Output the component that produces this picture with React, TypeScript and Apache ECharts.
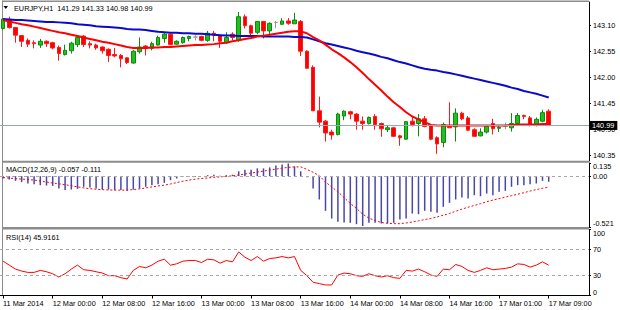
import React, { useEffect, useRef } from 'react';
import * as echarts from 'echarts';

// ---- time axis ----
const sessions: [string, number, number][] = [
  ['11 Mar', 16, 23],
  ['12 Mar', 0, 23],
  ['13 Mar', 0, 23],
  ['14 Mar', 0, 23],
  ['17 Mar', 1, 15],
];
const firstLabel = '11 Mar 2014';
const lastBarIndex = 88;

// ---- price candles (EURJPY H1) ----
const opens = [143.04,143.22,143.06,142.89,142.79,142.74,142.69,142.77,142.74,142.64,
  142.49,142.57,142.70,142.88,142.72,142.69,142.65,142.60,142.49,142.47,
  142.42,142.31,142.55,142.67,142.62,142.69,142.83,142.92,142.71,142.74,
  142.83,142.86,142.87,142.79,142.94,142.89,142.74,142.92,142.79,143.29,
  143.10,142.96,143.19,142.99,143.17,143.13,143.20,143.14,143.19,142.56,
  142.22,141.30,141.08,140.85,140.80,141.19,141.28,141.23,141.08,141.03,
  141.18,141.03,140.90,140.94,140.77,140.70,141.08,141.03,141.13,140.99,
  140.73,140.63,140.97,140.96,141.25,141.15,140.90,140.77,140.85,141.03,
  140.93,140.97,140.94,141.03,141.20,141.15,140.99,141.08,141.29];
const closes = [143.24,143.06,142.90,142.77,142.71,142.72,142.77,142.72,142.63,142.51,
  142.58,142.73,142.85,142.70,142.69,142.63,142.57,142.47,142.46,142.40,
  142.32,142.56,142.65,142.62,142.72,142.85,142.92,142.70,142.77,142.85,
  142.87,142.86,142.79,142.94,142.90,142.77,142.85,142.85,143.29,143.10,
  142.94,143.19,142.99,143.15,143.17,143.20,143.15,143.22,142.56,142.20,
  141.30,141.06,140.83,140.79,141.23,141.29,141.23,141.08,141.03,141.16,
  141.01,140.92,140.94,140.76,140.73,141.07,141.01,141.13,140.97,140.70,
  140.60,141.01,140.94,141.25,141.13,140.89,140.76,140.85,140.97,140.92,
  140.95,140.97,141.03,141.20,141.18,140.99,141.12,141.26,140.99];
const lows = [143.02,143.04,142.74,142.65,142.65,142.62,142.63,142.65,142.60,142.36,
  142.47,142.51,142.65,142.65,142.62,142.59,142.51,142.33,142.43,142.22,
  142.29,142.30,142.51,142.47,142.58,142.68,142.74,142.69,142.70,142.72,
  142.77,142.79,142.77,142.76,142.77,142.63,142.72,142.79,142.76,143.04,
  142.89,142.92,142.83,142.92,143.05,143.12,143.12,143.14,142.46,142.19,
  141.30,140.95,140.65,140.69,140.78,141.10,141.12,140.90,140.90,141.01,
  140.90,140.75,140.85,140.75,140.56,140.69,140.97,140.76,140.95,140.68,
  140.39,140.53,140.94,140.65,141.10,140.87,140.75,140.76,140.82,140.80,
  140.85,140.91,140.86,141.01,141.12,140.97,140.97,141.06,140.98];
const highs = [143.26,143.29,143.07,142.90,142.83,142.79,142.82,142.79,142.76,142.68,
  142.70,142.76,142.90,142.90,142.77,142.72,142.66,142.62,142.63,142.50,
  142.43,142.58,142.85,142.69,142.76,142.89,142.96,142.94,142.79,142.87,
  142.89,142.90,142.89,142.99,142.99,142.92,142.96,142.96,143.39,143.34,
  143.12,143.20,143.20,143.17,143.20,143.26,143.26,143.37,143.22,142.58,
  142.26,141.60,141.11,140.90,141.26,141.31,141.30,141.25,141.18,141.18,
  141.23,141.05,140.99,140.96,140.79,141.08,141.19,141.23,141.19,141.01,
  140.76,141.05,141.48,141.35,141.28,141.19,140.93,140.93,141.00,141.13,
  140.99,141.05,141.25,141.25,141.22,141.19,141.16,141.32,141.33];

// ---- moving averages ----
const redMA = [143.22,143.19,143.16,143.13,143.11,143.08,143.05,143.02,142.99,142.96,
  142.94,142.91,142.88,142.85,142.82,142.79,142.76,142.74,142.71,142.68,
  142.65,142.63,142.63,142.63,142.64,142.64,142.65,142.65,142.66,142.67,
  142.68,142.69,142.69,142.70,142.71,142.73,142.74,142.77,142.79,142.82,
  142.84,142.87,142.89,142.91,142.93,142.95,142.97,142.98,142.98,142.94,
  142.86,142.79,142.70,142.60,142.52,142.43,142.33,142.22,142.10,141.97,
  141.85,141.73,141.60,141.48,141.38,141.27,141.18,141.12,141.06,141.00,
  140.99,140.99,140.99,140.99,140.99,140.99,140.99,140.99,140.99,140.99,
  140.99,140.99,141.00,141.01,141.01,141.01,141.01,141.02,141.02];
const blueMA = [143.24,143.23,143.22,143.22,143.21,143.20,143.19,143.18,143.18,143.17,
  143.16,143.15,143.13,143.12,143.11,143.09,143.08,143.07,143.06,143.05,
  143.03,143.02,143.02,143.01,142.99,142.97,142.96,142.95,142.95,142.94,
  142.94,142.93,142.93,142.92,142.91,142.90,142.89,142.89,142.88,142.88,
  142.88,142.88,142.87,142.87,142.87,142.87,142.87,142.86,142.86,142.85,
  142.81,142.77,142.73,142.70,142.67,142.64,142.61,142.57,142.54,142.51,
  142.48,142.44,142.41,142.37,142.33,142.30,142.26,142.22,142.19,142.17,
  142.15,142.12,142.10,142.07,142.04,142.01,141.98,141.95,141.92,141.89,
  141.86,141.83,141.79,141.76,141.72,141.69,141.66,141.62,141.58];

// ---- MACD(12,26,9) ----
const macdHist = [-0.024,-0.034,-0.048,-0.061,-0.075,-0.082,-0.092,-0.096,-0.1,-0.126,
  -0.143,-0.137,-0.13,-0.109,-0.116,-0.126,-0.137,-0.137,-0.143,-0.143,
  -0.15,-0.137,-0.126,-0.109,-0.092,-0.082,-0.068,-0.041,-0.024,-0.007,
  -0.007,-0.007,0.0,0.01,0.015,0.005,0.01,0.015,0.05,0.065,
  0.065,0.08,0.08,0.09,0.11,0.12,0.13,0.1,0.05,-0.01,
  -0.126,-0.239,-0.355,-0.434,-0.468,-0.475,-0.478,-0.492,-0.51,-0.478,
  -0.478,-0.485,-0.485,-0.478,-0.444,-0.434,-0.383,-0.39,-0.355,-0.365,
  -0.376,-0.314,-0.273,-0.239,-0.219,-0.229,-0.195,-0.205,-0.178,-0.195,
  -0.16,-0.15,-0.109,-0.092,-0.092,-0.082,-0.075,-0.048,-0.057];
const macdSignal = [-0.014,-0.02,-0.025,-0.03,-0.035,-0.04,-0.05,-0.06,-0.07,-0.078,
  -0.088,-0.098,-0.11,-0.12,-0.128,-0.134,-0.138,-0.141,-0.143,-0.144,
  -0.143,-0.138,-0.13,-0.121,-0.11,-0.1,-0.092,-0.08,-0.066,-0.052,
  -0.04,-0.03,-0.024,-0.018,-0.012,-0.007,-0.002,0.003,0.012,0.022,
  0.032,0.042,0.052,0.062,0.072,0.082,0.09,0.095,0.095,0.07,
  0.04,0.005,-0.06,-0.11,-0.16,-0.22,-0.28,-0.33,-0.39,-0.43,
  -0.455,-0.475,-0.483,-0.487,-0.487,-0.48,-0.47,-0.458,-0.445,-0.434,
  -0.418,-0.4,-0.382,-0.36,-0.338,-0.318,-0.3,-0.282,-0.262,-0.245,
  -0.23,-0.215,-0.2,-0.185,-0.17,-0.152,-0.138,-0.124,-0.111];

// ---- RSI(14) ----
const rsi = [52,46,40,37,35,35,38,36,33,28,
  33,40,46,39,38,36,34,30,30,27,
  25,38,44,42,46,52,55,46,48,52,
  53,53,50,55,54,49,53,51,66,58,
  53,59,52,56,57,59,57,59,38,30,
  20,18,16,16,31,34,33,30,29,33,
  30,28,30,27,26,38,37,40,36,31,
  29,40,39,47,44,38,35,38,42,39,
  40,41,43,48,47,43,46,51,45.9161];

// ---- axis ticks ----
const priceTicks = [140.35, 140.90, 141.45, 142.00, 142.55, 143.10];
const priceMin = 140.238;
const priceMax = 143.601;
const bidPrice = 140.99;
const macdTicks = [-0.521, 0, 0.135];
const rsiTicks = [0, 30, 70, 100];
const rsiLevels = [30, 70];

const titleText = 'EURJPY,H1  141.29 141.33 140.98 140.99';
const macdText = 'MACD(12,26,9) -0.057 -0.111';
const rsiText = 'RSI(14) 45.9161';

const FONT = 'Liberation Sans, Arial, sans-serif';
const FS = 7.3;

function buildCategories(): string[] {
  const out: string[] = [];
  const pad = (n: number) => (n < 10 ? '0' : '') + n;
  sessions.forEach(([d, a, b]) => {
    for (let h = a; h <= b; h++) out.push(`${d} ${pad(h)}:00`);
  });
  return out;
}

export default function App() {
  const ref = useRef<HTMLDivElement>(null);
  useEffect(() => {
    if (!ref.current) return;
    const chart = echarts.init(ref.current, undefined, { renderer: 'svg' });
    const categories = buildCategories();
    const labelInterval = (index: number) => index % 8 === 0 && index <= lastBarIndex;
    const candleData = opens.map((o, i) => {
      const v = [o, closes[i], lows[i], highs[i]];
      if (o === closes[i]) {
        return {
          value: v,
          itemStyle: { color: '#9a9a9a', color0: '#9a9a9a', borderColor: '#9a9a9a', borderColor0: '#9a9a9a' },
        };
      }
      return v;
    });
    const gray = '#8c8c8c';
    const yCommon = (ticks: number[], fmt: (v: number) => string, edgeAlign: boolean) => ({
      type: 'value',
      position: 'right',
      axisLine: { show: true, lineStyle: { color: '#000', width: 1 } },
      axisTick: { show: true, length: 2, customValues: ticks, lineStyle: { color: '#000' } },
      axisLabel: {
        customValues: ticks,
        formatter: fmt,
        fontSize: FS,
        fontFamily: FONT,
        color: '#000',
        margin: 4,
        ...(edgeAlign ? { verticalAlignMaxLabel: 'top', verticalAlignMinLabel: 'bottom' } : {}),
      },
      splitLine: { show: false },
    });
    const option: any = {
      animation: false,
      textStyle: { fontFamily: FONT },
      grid: [
        { left: 0, top: 2, width: 589, height: 159 },
        { left: 0, top: 163, width: 589, height: 64 },
        { left: 0, top: 229.5, width: 589, height: 66 },
      ],
      xAxis: [0, 1, 2].map((g) => ({
        type: 'category',
        gridIndex: g,
        data: categories,
        boundaryGap: true,
        show: g === 2,
        axisLine: { onZero: false, lineStyle: { color: '#000', width: 1 } },
        axisTick: { show: true, alignWithLabel: true, length: 3, interval: labelInterval, lineStyle: { color: '#000' } },
        axisLabel: {
          interval: labelInterval,
          formatter: (v: string, i: number) => (i === 0 ? firstLabel : v),
          align: 'left',
          fontSize: FS,
          fontFamily: FONT,
          color: '#000',
          margin: 4,
        },
        splitLine: { show: false },
      })),
      yAxis: [
        { ...yCommon(priceTicks, (v: number) => v.toFixed(2), false), gridIndex: 0, min: priceMin, max: priceMax },
        { ...yCommon(macdTicks, (v: number) => (v === 0 ? '0.00' : v.toFixed(3)), true), gridIndex: 1, min: -0.521, max: 0.135 },
        { ...yCommon(rsiTicks, (v: number) => String(v), true), gridIndex: 2, min: 0, max: 100 },
      ],
      series: [
        {
          type: 'candlestick',
          xAxisIndex: 0,
          yAxisIndex: 0,
          barWidth: 4,
          silent: true,
          data: candleData,
          itemStyle: { color: '#1fc01f', color0: '#ff0000', borderColor: '#0b8a0b', borderColor0: '#ff1a1a', borderWidth: 1 },
          markLine: {
            silent: true,
            symbol: ['none', 'none'],
            data: [{ yAxis: bidPrice }],
            lineStyle: { color: '#9aa7b6', width: 1, type: 'solid' },
            label: {
              show: true,
              position: 'end',
              formatter: bidPrice.toFixed(2),
              color: '#fff',
              backgroundColor: '#000',
              padding: [1, 3, 1, 2],
              fontSize: FS,
              fontFamily: FONT,
              distance: 1,
            },
            z: 10,
          },
          z: 2,
        },
        {
          type: 'line', xAxisIndex: 0, yAxisIndex: 0, data: blueMA, symbol: 'none', silent: true,
          lineStyle: { color: '#0a0acc', width: 2 }, z: 3,
        },
        {
          type: 'line', xAxisIndex: 0, yAxisIndex: 0, data: redMA, symbol: 'none', silent: true,
          lineStyle: { color: '#ff0000', width: 2 }, z: 4,
        },
        {
          type: 'bar', xAxisIndex: 1, yAxisIndex: 1, data: macdHist, barWidth: 1.5, silent: true,
          itemStyle: { color: '#4848aa' },
        },
        {
          type: 'line', xAxisIndex: 1, yAxisIndex: 1, data: macdSignal, symbol: 'none', silent: true,
          lineStyle: { color: '#ff0000', width: 1, type: [2, 2] }, z: 4,
          markLine: {
            silent: true, symbol: ['none', 'none'], data: [{ yAxis: 0 }],
            lineStyle: { color: '#a8a8a8', width: 1, type: [3, 3] }, label: { show: false },
          },
        },
        {
          type: 'line', xAxisIndex: 2, yAxisIndex: 2, data: rsi, symbol: 'none', silent: true,
          lineStyle: { color: '#ff0000', width: 1 }, z: 4,
          markLine: {
            silent: true, symbol: ['none', 'none'], data: rsiLevels.map((v) => ({ yAxis: v })),
            lineStyle: { color: '#a8a8a8', width: 1, type: [3, 3] }, label: { show: false },
          },
        },
      ],
      graphic: [
        { type: 'rect', silent: true, shape: { x: 2, y: 0.5, width: 587, height: 1.5 }, style: { fill: gray } },
        { type: 'rect', silent: true, shape: { x: 2, y: 0.5, width: 1, height: 295 }, style: { fill: gray } },
        { type: 'rect', silent: true, shape: { x: 2, y: 160.8, width: 587, height: 2 }, style: { fill: gray } },
        { type: 'rect', silent: true, shape: { x: 2, y: 227, width: 587, height: 2.5 }, style: { fill: gray } },
        { type: 'polygon', silent: true, shape: { points: [[3.5, 6], [8, 6], [5.75, 9]] }, style: { fill: '#000' } },
        { type: 'text', silent: true, x: 14, y: 8, style: { text: titleText, fill: '#000', fontSize: FS, fontFamily: FONT, align: 'left', verticalAlign: 'middle' } },
        { type: 'text', silent: true, x: 6, y: 169.5, style: { text: macdText, fill: '#000', fontSize: FS, fontFamily: FONT, align: 'left', verticalAlign: 'middle' } },
        { type: 'text', silent: true, x: 6, y: 237, style: { text: rsiText, fill: '#000', fontSize: FS, fontFamily: FONT, align: 'left', verticalAlign: 'middle' } },
      ],
    };
    chart.setOption(option);
    return () => chart.dispose();
  }, []);
  return (
    <div
      ref={ref}
      style={{ position: 'fixed', left: 0, top: 0, width: 620, height: 310, background: '#fff' }}
    />
  );
}
